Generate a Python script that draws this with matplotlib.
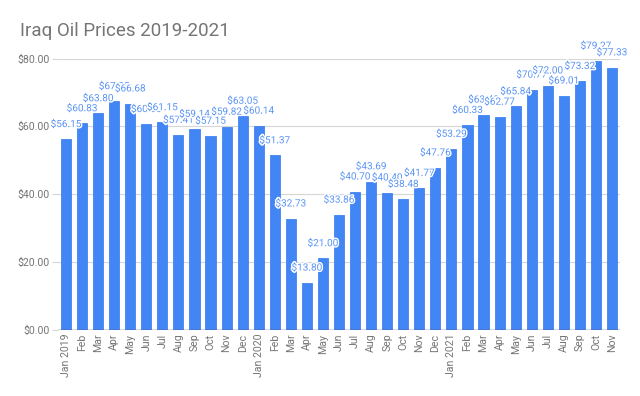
import matplotlib
matplotlib.use("Agg")
import matplotlib.pyplot as plt
import matplotlib.patheffects as pe

plt.rcParams['font.family'] = ['Roboto', 'DejaVu Sans']

# monthly prices, Jan 2019 - Nov 2021
months = ['Jan 2019', 'Feb', 'Mar', 'Apr', 'May', 'Jun', 'Jul', 'Aug', 'Sep', 'Oct', 'Nov', 'Dec',
          'Jan 2020', 'Feb', 'Mar', 'Apr', 'May', 'Jun', 'Jul', 'Aug', 'Sep', 'Oct', 'Nov', 'Dec',
          'Jan 2021', 'Feb', 'Mar', 'Apr', 'May', 'Jun', 'Jul', 'Aug', 'Sep', 'Oct', 'Nov']
prices = [56.15, 60.83, 63.80, 67.35, 66.68, 60.60, 61.15, 57.41, 59.14, 57.15, 59.82, 63.05,
          60.14, 51.37, 32.73, 13.80, 21.00, 33.86, 40.70, 43.69, 40.40, 38.48, 41.77, 47.76,
          53.29, 60.33, 63.40, 62.77, 65.84, 70.77, 72.00, 69.01, 73.32, 79.27, 77.33]
yticks = [0, 20, 40, 60, 80]

bar_color = '#4285F4'
label_color = '#5a94f5'
text_gray = '#757575'

fig = plt.figure(figsize=(6.4, 3.96), dpi=100)
ax = fig.add_axes([58 / 640, 1 - 329.5 / 396, 562 / 640, 271 / 396])

x = list(range(len(prices)))
ax.bar(x, prices, width=0.63, color=bar_color, edgecolor='#2f78f0', linewidth=0.5, zorder=3)

for xi, v in zip(x, prices):
    ax.annotate(f'${v:.2f}', (xi, v), xytext=(0, 11), textcoords='offset points',
                ha='center', va='center', fontsize=7.2, color=label_color, zorder=5,
                path_effects=[pe.withStroke(linewidth=2, foreground='white')])

ax.set_xlim(-0.5, len(prices) - 0.5)
ax.set_ylim(0, 80)
ax.set_yticks(yticks)
ax.set_yticklabels([f'${t:.2f}' for t in yticks])
ax.set_xticks(x)
ax.set_xticklabels(months, rotation=90)

ax.grid(axis='y', color='#d6d6d6', linewidth=0.8, zorder=0)
ax.axhline(0, color='#444444', linewidth=1, zorder=4)
for s in ax.spines.values():
    s.set_visible(False)
ax.tick_params(axis='y', length=4, color='#d6d6d6', width=0.8, pad=2,
               labelsize=7.6, labelcolor=text_gray)
ax.tick_params(axis='x', length=0, pad=3, labelsize=7.6, labelcolor=text_gray)

fig.text(20 / 640, 1 - 36 / 396, 'Iraq Oil Prices 2019-2021', fontsize=13.5,
         color=text_gray, ha='left', va='baseline')

fig.savefig('out.png', dpi=100, facecolor='white')
